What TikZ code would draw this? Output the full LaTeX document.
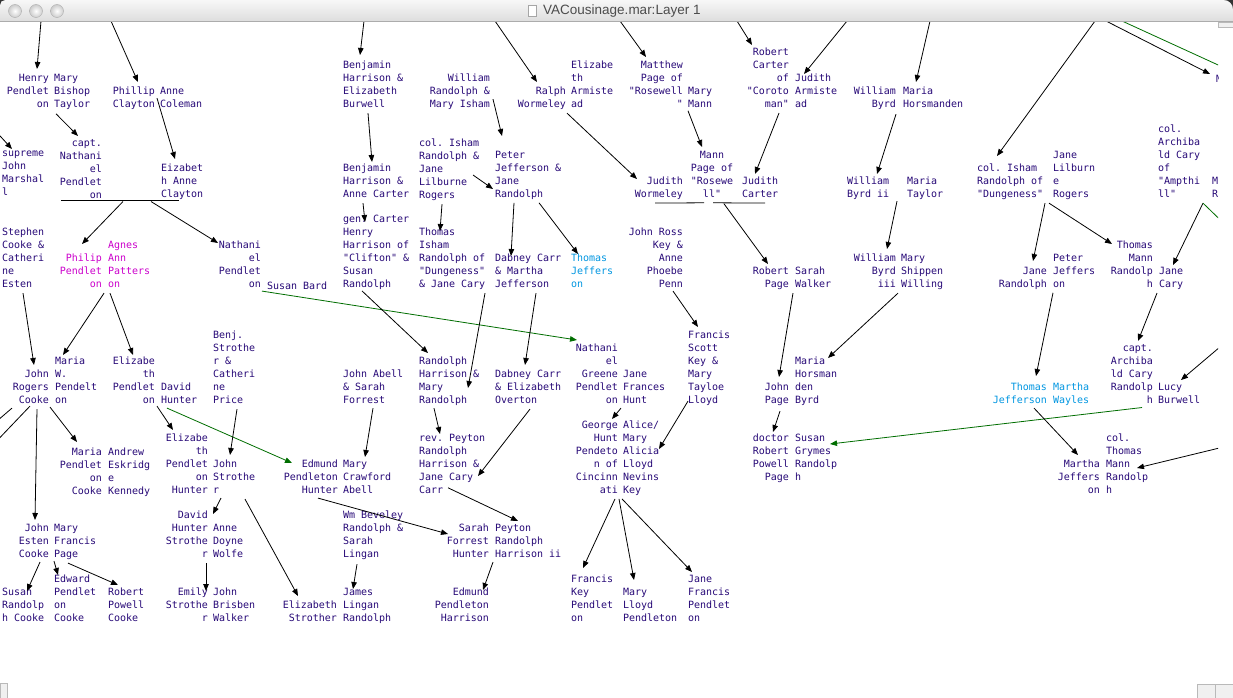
\documentclass[tikz,border=0pt]{standalone}
\usepackage{fontspec}
\setmonofont{DejaVu Sans Mono}
\newfontfamily\titlefont{Liberation Sans}
\usetikzlibrary{arrows.meta}
\definecolor{ink}{RGB}{40,10,120}
\definecolor{pinkink}{RGB}{204,0,204}
\definecolor{tjblue}{RGB}{0,150,225}
\definecolor{linkgreen}{RGB}{0,110,0}
\begin{document}
\begin{tikzpicture}[x=1pt,y=-1pt,>={Triangle[length=7pt,width=5.5pt]},
  per/.style={font=\ttfamily\fontsize{10}{13}\selectfont,text=ink,inner sep=0pt,outer sep=0pt,yshift=3pt,
    execute at begin node={\rule{0pt}{9pt}},execute at end node={\rule[-3.5pt]{0pt}{0pt}}},
  lcol/.style={per,align=left,anchor=north west},
  rcol/.style={per,align=right,anchor=north east},
  ccol/.style={per,align=center,anchor=north},
  kinline/.style={line width=0.8pt},
  kin/.style={kinline,->},
  cous/.style={kin,linkgreen}]
\useasboundingbox (0,0) rectangle (1233,698);
\fill[white] (0,0) rectangle (1233,698);

\begin{scope}
\clip (0,22) rectangle (1218,698);
\node[rcol] (henry) at (49,77) {Henry\\Pendlet\\on};
\node[lcol] (maryB) at (54,77) {Mary\\Bishop\\Taylor};
\node[rcol] (phillipC) at (155,90) {Phillip\\Clayton};
\node[lcol] (anneC) at (160,90) {Anne\\Coleman};
\node[lcol] (benjE) at (343,64) {Benjamin\\Harrison \&\\Elizabeth\\Burwell};
\node[rcol] (williamR) at (490,77) {William\\Randolph \&\\Mary Isham};
\node[rcol] (ralphW) at (566,90) {Ralph\\Wormeley};
\node[lcol] (elizA) at (571,64) {Elizabe\\th\\Armiste\\ad};
\node[rcol] (matthewP) at (683,64) {Matthew\\Page of\\"Rosewell\\"};
\node[lcol] (maryM) at (688,90) {Mary\\Mann};
\node[rcol] (robertC) at (789,51) {Robert\\Carter\\of\\"Coroto\\man"};
\node[lcol] (judithA) at (795,77) {Judith\\Armiste\\ad};
\node[rcol] (williamB) at (896,90) {William\\Byrd};
\node[lcol] (mariaH) at (903,90) {Maria\\Horsmanden};
\node[lcol] (edgeM) at (1216,77) {M};

\node[lcol] (supreme) at (2,154) {supreme\\John\\Marshal\\l};
\node[rcol] (captN) at (102,142) {capt.\\Nathani\\el\\Pendlet\\on};
\node[lcol] (eizabet) at (161,167) {Eizabet\\h Anne\\Clayton};
\node[lcol] (benjA) at (343,167) {Benjamin\\Harrison \&\\Anne Carter};
\node[lcol] (colIshamJ) at (419,142) {col. Isham\\Randolph \&\\Jane\\Lilburne\\Rogers};
\node[lcol] (peterJ) at (495,154) {Peter\\Jefferson \&\\Jane\\Randolph};
\node[ccol] (mannP) at (712,154) {Mann\\Page of\\"Rosewe\\ll"};
\node[rcol] (judithW) at (683,180) {Judith\\Wormeley};
\node[lcol] (judithC) at (742,180) {Judith\\Carter};
\node[lcol] (williamB2) at (847,180) {William\\Byrd ii};
\node[lcol] (mariaT) at (907,180) {Maria\\Taylor};
\node[lcol] (colIshamD) at (977,167) {col. Isham\\Randolph of\\"Dungeness"};
\node[lcol] (janeLR) at (1053,154) {Jane\\Lilburn\\e\\Rogers};
\node[lcol] (colArchA) at (1158,128) {col.\\Archiba\\ld Cary\\of\\"Ampthi\\ll"};
\node[lcol] (edgeMR) at (1212,180) {M\\R};

\node[lcol] (stephenC) at (2,231) {Stephen\\Cooke \&\\Catheri\\ne\\Esten};
\node[rcol,text=pinkink] (philipP) at (102,257) {Philip\\Pendlet\\on};
\node[lcol,text=pinkink] (agnesP) at (108,244) {Agnes\\Ann\\Patters\\on};
\node[rcol] (nathanielP) at (261,244) {Nathani\\el\\Pendlet\\on};
\node[lcol] (susanB) at (267,283) {Susan Bard};
\node[lcol] (genCarter) at (343,218) {gen. Carter\\Henry\\Harrison of\\"Clifton" \&\\Susan\\Randolph};
\node[lcol] (thomasI) at (419,231) {Thomas\\Isham\\Randolph of\\"Dungeness"\\\& Jane Cary};
\node[lcol] (dabneyM) at (495,257) {Dabney Carr\\\& Martha\\Jefferson};
\node[lcol,text=tjblue] (thomasJa) at (571,257) {Thomas\\Jeffers\\on};
\node[rcol] (johnRK) at (683,231) {John Ross\\Key \&\\Anne\\Phoebe\\Penn};
\node[rcol] (robertP) at (789,270) {Robert\\Page};
\node[lcol] (sarahW) at (795,270) {Sarah\\Walker};
\node[rcol] (williamB3) at (896,257) {William\\Byrd\\iii};
\node[lcol] (maryS) at (901,257) {Mary\\Shippen\\Willing};
\node[rcol] (janeR) at (1047,270) {Jane\\Randolph};
\node[lcol] (peterJb) at (1053,257) {Peter\\Jeffers\\on};
\node[rcol] (thomasMR) at (1153,244) {Thomas\\Mann\\Randolp\\h};
\node[lcol] (janeCary) at (1159,270) {Jane\\Cary};

\node[rcol] (johnRC) at (49,373) {John\\Rogers\\Cooke};
\node[lcol] (mariaW) at (55,360) {Maria\\W.\\Pendelt\\on};
\node[rcol] (elizP) at (155,360) {Elizabe\\th\\Pendlet\\on};
\node[lcol] (davidH) at (161,386) {David\\Hunter};
\node[lcol] (benjS) at (213,334) {Benj.\\Strothe\\r \&\\Catheri\\ne\\Price};
\node[lcol] (johnA) at (343,373) {John Abell\\\& Sarah\\Forrest};
\node[lcol] (randolphH) at (419,360) {Randolph\\Harrison \&\\Mary\\Randolph};
\node[lcol] (dabneyE) at (495,373) {Dabney Carr\\\& Elizabeth\\Overton};
\node[rcol] (nathanielG) at (618,347) {Nathani\\el\\Greene\\Pendlet\\on};
\node[lcol] (janeF) at (623,373) {Jane\\Frances\\Hunt};
\node[lcol] (francisSK) at (688,334) {Francis\\Scott\\Key \&\\Mary\\Tayloe\\Lloyd};
\node[rcol] (johnP) at (789,386) {John\\Page};
\node[lcol] (mariaHB) at (795,360) {Maria\\Horsman\\den\\Byrd};
\node[rcol,text=tjblue] (thomasJb) at (1047,386) {Thomas\\Jefferson};
\node[lcol,text=tjblue] (marthaW) at (1053,386) {Martha\\Wayles};
\node[rcol] (captA) at (1153,347) {capt.\\Archiba\\ld Cary\\Randolp\\h};
\node[lcol] (lucyB) at (1158,386) {Lucy\\Burwell};

\node[rcol] (mariaPC) at (102,451) {Maria\\Pendlet\\on\\Cooke};
\node[lcol] (andrewK) at (108,451) {Andrew\\Eskridg\\e\\Kennedy};
\node[rcol] (elizPH) at (208,437) {Elizabe\\th\\Pendlet\\on\\Hunter};
\node[lcol] (johnS) at (213,463) {John\\Strothe\\r};
\node[rcol] (edmundPH) at (338,463) {Edmund\\Pendleton\\Hunter};
\node[lcol] (maryCA) at (343,463) {Mary\\Crawford\\Abell};
\node[lcol] (revPeyton) at (419,437) {rev. Peyton\\Randolph\\Harrison \&\\Jane Cary\\Carr};
\node[rcol] (georgeH) at (618,424) {George\\Hunt\\Pendeto\\n of\\Cincinn\\ati};
\node[lcol] (aliceM) at (623,424) {Alice/\\Mary\\Alicia\\Lloyd\\Nevins\\Key};
\node[rcol] (doctorR) at (789,437) {doctor\\Robert\\Powell\\Page};
\node[lcol] (susanG) at (795,437) {Susan\\Grymes\\Randolp\\h};
\node[rcol] (marthaJ) at (1100,463) {Martha\\Jeffers\\on};
\node[lcol] (colThomasM) at (1106,437) {col.\\Thomas\\Mann\\Randolp\\h};

\node[rcol] (johnEC) at (49,527) {John\\Esten\\Cooke};
\node[lcol] (maryFP) at (54,527) {Mary\\Francis\\Page};
\node[rcol] (davidHS) at (208,514) {David\\Hunter\\Strothe\\r};
\node[lcol] (anneDW) at (213,527) {Anne\\Doyne\\Wolfe};
\node[lcol] (wmB) at (343,514) {Wm Beveley\\Randolph \&\\Sarah\\Lingan};
\node[rcol] (sarahFH) at (489,527) {Sarah\\Forrest\\Hunter};
\node[lcol] (peytonRH) at (495,527) {Peyton\\Randolph\\Harrison ii};

\node[lcol] (susanRC) at (2,591) {Susan\\Randolp\\h Cooke};
\node[lcol] (edwardPC) at (54,578) {Edward\\Pendlet\\on\\Cooke};
\node[lcol] (robertPC) at (108,591) {Robert\\Powell\\Cooke};
\node[rcol] (emilyS) at (208,591) {Emily\\Strothe\\r};
\node[lcol] (johnBW) at (213,591) {John\\Brisben\\Walker};
\node[rcol] (elizS) at (337,604) {Elizabeth\\Strother};
\node[lcol] (jamesLR) at (343,591) {James\\Lingan\\Randolph};
\node[rcol] (edmundPHr) at (489,591) {Edmund\\Pendleton\\Harrison};
\node[lcol] (francisKP) at (571,578) {Francis\\Key\\Pendlet\\on};
\node[lcol] (maryLP) at (623,591) {Mary\\Lloyd\\Pendleton};
\node[lcol] (janeFP) at (688,578) {Jane\\Francis\\Pendlet\\on};

% ends that lie off the window
\coordinate (up1) at (41,21);  \coordinate (up2) at (111,21);
\coordinate (up3) at (364,21); \coordinate (up4) at (495,21);
\coordinate (up5) at (620,21); \coordinate (up6) at (737,21);
\coordinate (up7) at (847,21); \coordinate (up8) at (930,21);
\coordinate (up9) at (1095,21); \coordinate (up10) at (1106,21);
\coordinate (up11) at (1122,21); \coordinate (out11) at (1240,75);
\coordinate (out12) at (1240,239);
\coordinate (left1) at (-10,125); \coordinate (left2) at (-10,427); \coordinate (left3) at (-10,448);
\coordinate (right1) at (1240,330); \coordinate (right2) at (1240,443);

\draw[kin] (up1) -- ([shift={(-12,-5)}]henry.north east);
\draw[kin] (up2) -- ([shift={(-17,-5)}]phillipC.north east);
\draw[kin] (up3) -- ([shift={(17,-6)}]benjE.north west);
\draw[kin] (up4) -- ([shift={(-29,-5)}]ralphW.north east);
\draw[kin] (up5) -- ([shift={(-37,-4)}]matthewP.north east);
\draw[kin] (up6) -- ([shift={(-37,-3)}]robertC.north east);
\draw[kin] (up7) -- ([shift={(9,0)}]judithA.north west);
\draw[kin] (up8) -- ([shift={(13,-5)}]mariaH.north west);
\draw[kin] (up9) -- ([shift={(20,-8)}]colIshamD.north west);
\draw[kin] (up10) -- ([shift={(-6,0)}]edgeM.north west);
\draw[kinline,linkgreen] (up11) -- (out11);
\draw[kin] (left1) -- ([shift={(10,-2)}]supreme.north west);
\draw[kin] (right1) -- ([shift={(23,-3)}]lucyB.north west);
\draw[kin] (right2) -- ([shift={(31,34)}]colThomasM.north west);
\draw[kin] ([shift={(45,2)}]colArchA.south west) -- ([shift={(14,-2)}]janeCary.north west);
\draw[kinline,linkgreen] ([shift={(45,2)}]colArchA.south west) -- (out12);

\draw[kin] ([shift={(2,3)}]maryB.south west) -- ([shift={(-24,-3)}]captN.north east);
\draw[kin] ([shift={(2,-13)}]phillipC.south east) -- ([shift={(14,-5)}]eizabet.north west);
\draw[kinline] ([shift={(1,-1)}]captN.south west) -- ++(118,0);
\draw[kin] ([shift={(21,0)}]captN.south east) -- ([shift={(-20,-10)}]philipP.north east);
\draw[kin] ([shift={(49,0)}]captN.south east) -- ([shift={(-43,2)}]nathanielP.north east);
\draw[cous] ([shift={(1,0)}]nathanielP.south east) -- ([shift={(-41,-4)}]nathanielG.north east);
\draw[kin] ([shift={(25,2)}]benjE.south west) -- ([shift={(29,-2)}]benjA.north west);
\draw[kin] ([shift={(3,-12)}]williamR.south east) -- ([shift={(7,-15)}]peterJ.north west);
\draw[kin] ([shift={(1,2)}]ralphW.south east) -- ([shift={(-46,2)}]judithW.north east);
\draw[kin] ([shift={(54,36)}]colIshamJ.north west) -- ([shift={(-2,38)}]peterJ.north west);
\draw[kin] ([shift={(20,2)}]benjA.south west) -- ([shift={(22,7)}]genCarter.north west);
\draw[kin] ([shift={(23,2)}]colIshamJ.south west) -- ([shift={(21,3)}]thomasI.north west);
\draw[kin] ([shift={(19,2)}]peterJ.south west) -- ([shift={(16,2)}]dabneyM.north west);
\draw[kin] ([shift={(44,2)}]peterJ.south west) -- ([shift={(7,0)}]thomasJa.north west);
\draw[kin] (maryM.south west) -- ([shift={(-10,-4)}]mannP.north);
\draw[kin] ([shift={(-10,2)}]robertC.south east) -- ([shift={(13,-3)}]judithC.north west);
\draw[kin] ([shift={(0,3)}]williamB.south east) -- ([shift={(30,-3)}]williamB2.north west);
\draw[kinline] ([shift={(-28,2)}]judithW.south east) -- ([shift={(-8,2)}]mannP.south);
\draw[kinline] ([shift={(1,2)}]mannP.south) -- ([shift={(23,2)}]judithC.south west);
\draw[kin] ([shift={(12,3)}]mannP.south) -- ([shift={(-21,-3)}]robertP.north east);
\draw[kin] ([shift={(50,0)}]williamB2.south west) -- ([shift={(-9,-5)}]williamB3.north east);
\draw[kin] ([shift={(68,2)}]colIshamD.south west) -- ([shift={(-14,-6)}]janeR.north east);
\draw[kin] ([shift={(72,2)}]colIshamD.south west) -- ([shift={(-41,3)}]thomasMR.north east);

\draw[kin] ([shift={(21,2)}]stephenC.south west) -- ([shift={(-15,-5)}]johnRC.north east);
\draw[kin] ([shift={(2,2)}]philipP.south east) -- ([shift={(8,-2)}]mariaW.north west);
\draw[kin] ([shift={(8,2)}]philipP.south east) -- ([shift={(-22,-2)}]elizP.north east);
\draw[kin] ([shift={(19,0)}]genCarter.south west) -- ([shift={(9,-4)}]randolphH.north west);
\draw[kin] ([shift={(66,2)}]thomasI.south west) -- ([shift={(49,31)}]randolphH.north west);
\draw[kin] ([shift={(41,2)}]dabneyM.south west) -- ([shift={(30,-5)}]dabneyE.north west);
\draw[kin] ([shift={(-10,0)}]johnRK.south east) -- ([shift={(10,-4)}]francisSK.north west);
\draw[kin] ([shift={(4,2)}]robertP.south east) -- ([shift={(-10,-6)}]johnP.north east);
\draw[kin] ([shift={(2,2)}]williamB3.south east) -- ([shift={(33,1)}]mariaHB.north west);
\draw[kin] ([shift={(6,2)}]janeR.south east) -- ([shift={(-11,-7)}]thomasJb.north east);
\draw[kin] ([shift={(4,2)}]thomasMR.south east) -- ([shift={(-15,-3)}]captA.north east);

\draw[kin] ([shift={(2,-1)}]elizP.south east) -- ([shift={(-35,-4)}]elizPH.north east);
\draw[cous] ([shift={(6,1)}]davidH.south west) -- ([shift={(-46,3)}]edmundPH.north east);
\draw[kin] ([shift={(24,2)}]benjS.south west) -- ([shift={(17,-5)}]johnS.north west);
\draw[kin] ([shift={(1,0)}]johnRC.south east) -- ([shift={(-25,-6)}]mariaPC.north east);
\draw[kin] ([shift={(-12,2)}]johnRC.south east) -- ([shift={(-14,-4)}]johnEC.north east);
\draw[kinline] ([shift={(-37,1)}]johnRC.south east) -- (left2);
\draw[kinline] ([shift={(-19,-1)}]johnRC.south east) -- (left3);
\draw[kin] ([shift={(15,1)}]randolphH.south west) -- ([shift={(21,0)}]revPeyton.north west);
\draw[kin] ([shift={(35,2)}]dabneyE.south west) -- ([shift={(59,42)}]revPeyton.north west);
\draw[kin] ([shift={(30,1)}]johnA.south west) -- ([shift={(22,-3)}]maryCA.north west);
\draw[kin] ([shift={(3,1)}]nathanielG.south east) -- ([shift={(-6,-2)}]georgeH.north east);
\draw[kin] ([shift={(0,-6)}]francisSK.south west) -- ([shift={(36,28)}]aliceM.north west);
\draw[kin] ([shift={(-9,4)}]johnP.south east) -- ([shift={(-16,-2)}]doctorR.north east);
\draw[cous] ([shift={(-11,1)}]captA.south east) -- ([shift={(35,10)}]susanG.north west);
\draw[kin] ([shift={(-13,1)}]thomasJb.south east) -- ([shift={(-22,-5)}]marthaJ.north east);

\draw[kin] ([shift={(8,1)}]johnS.south west) -- ([shift={(5,3)}]davidHS.north east);
\draw[kin] ([shift={(32,2)}]johnS.south west) -- ([shift={(-39,-5)}]elizS.north east);
\draw[kin] ([shift={(29,-9)}]revPeyton.south west) -- ([shift={(23,-3)}]peytonRH.north west);
\draw[kin] ([shift={(-20,1)}]edmundPH.south east) -- ([shift={(-41,10)}]sarahFH.north east);
\draw[kin] ([shift={(-3,2)}]georgeH.south east) -- ([shift={(12,-7)}]francisKP.north west);
\draw[kin] ([shift={(1,2)}]georgeH.south east) -- ([shift={(11,-8)}]maryLP.north west);
\draw[kin] ([shift={(4,2)}]georgeH.south east) -- ([shift={(4,-3)}]janeFP.north west);
\draw[kin] ([shift={(-9,1)}]johnEC.south east) -- ([shift={(25,3)}]susanRC.north west);
\draw[kin] ([shift={(5,0)}]johnEC.south east) -- ([shift={(4,0)}]edwardPC.north west);
\draw[kin] ([shift={(19,2)}]johnEC.south east) -- ([shift={(10,-3)}]robertPC.north west);
\draw[kin] ([shift={(-2,2)}]davidHS.south east) -- ([shift={(-2,3)}]emilyS.north east);
\draw[kin] ([shift={(14,3)}]wmB.south west) -- ([shift={(10,1)}]jamesLR.north west);
\draw[kin] ([shift={(4,1)}]sarahFH.south east) -- ([shift={(-6,2)}]edmundPHr.north east);
\end{scope}

% window frame
\shade[top color=gray!6,bottom color=gray!26] (0,0) rectangle (1233,21);
\draw[gray!65] (0,21.5) -- (1233,21.5);
\shadedraw[inner color=white,outer color=gray!40,draw=gray!65] (15,11) circle (6.5);
\shadedraw[inner color=white,outer color=gray!40,draw=gray!65] (36,11) circle (6.5);
\shadedraw[inner color=white,outer color=gray!40,draw=gray!65] (57,11) circle (6.5);
\draw[gray!70,fill=white] (528,5) rectangle (536,16);
\node[font=\titlefont\fontsize{13.5}{15}\selectfont,text=black!70,inner sep=0pt,anchor=west] (title) at (543,11) {VACousinage.mar:Layer 1};
\fill[black!80] (1224,0) .. controls (1229,0) and (1233,4) .. (1233,9) -- (1233,0) -- cycle;
\fill[black!80] (0,5) .. controls (0,2) and (2,0) .. (5,0) -- (0,0) -- cycle;
\filldraw[fill=gray!12,draw=gray!55] (1218,22) rectangle (1233,27);
\filldraw[fill=gray!12,draw=gray!55] (0,683) rectangle (7,698);
\filldraw[fill=gray!12,draw=gray!55] (1197,684) rectangle (1233,698);
\draw[gray!55] (1215,684) -- (1215,698);
\end{tikzpicture}
\end{document}
